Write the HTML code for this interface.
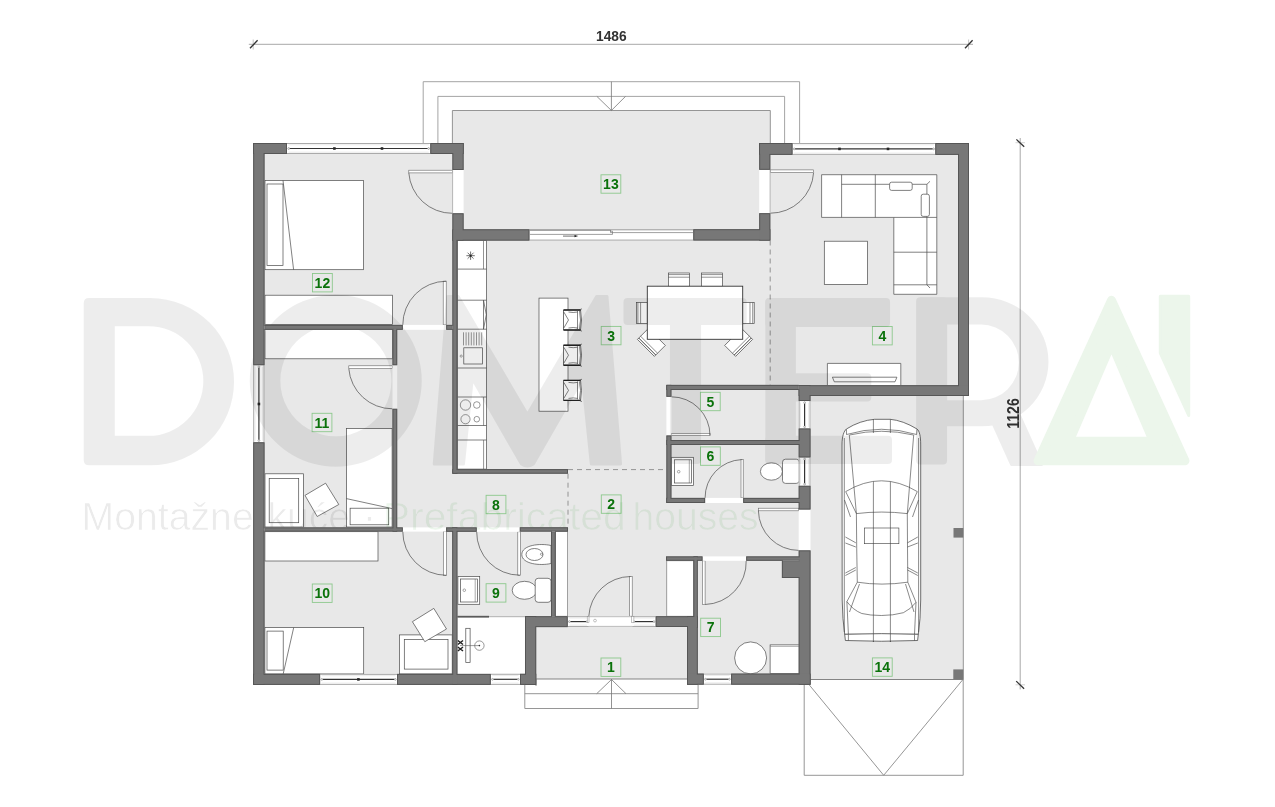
<!DOCTYPE html><html><head><meta charset="utf-8"><style>html,body{margin:0;padding:0;background:#fff;overflow:hidden}svg{display:block}.lb{opacity:0.995;font-family:"Liberation Sans",sans-serif;font-weight:bold;font-size:14px;fill:#0a720a}.dim{opacity:0.995;font-family:"Liberation Sans",sans-serif;font-weight:bold;font-size:15px;fill:#333}.wm{font-family:"Liberation Sans",sans-serif}</style></head><body>
<svg width="1275" height="807" viewBox="0 0 1275 807">
<defs><filter id="wo" x="0" y="0" width="1275" height="807" filterUnits="userSpaceOnUse"><feMorphology in="SourceAlpha" operator="erode" radius="1" result="er"/><feComposite in="SourceAlpha" in2="er" operator="out" result="edge"/><feFlood flood-color="#575757"/><feComposite in2="edge" operator="in" result="ec"/><feMerge><feMergeNode in="SourceGraphic"/><feMergeNode in="ec"/></feMerge></filter><filter id="thin" x="0" y="0" width="1275" height="807" filterUnits="userSpaceOnUse"><feMorphology operator="erode" radius="0.6"/></filter></defs>
<rect width="1275" height="807" fill="#fff"/>
<line x1="248.8" y1="44.3" x2="973.0" y2="44.3" stroke="#a8a8a8" stroke-width="1" />
<line x1="253.2" y1="39.5" x2="253.2" y2="49.5" stroke="#b8b8b8" stroke-width="0.8" />
<line x1="250.0" y1="48.2" x2="257.6" y2="40.3" stroke="#333" stroke-width="1.3" />
<line x1="968.6" y1="39.5" x2="968.6" y2="49.5" stroke="#b8b8b8" stroke-width="0.8" />
<line x1="965.0" y1="48.2" x2="972.6" y2="40.3" stroke="#333" stroke-width="1.3" />
<text x="596" y="41.2" textLength="30.6" lengthAdjust="spacingAndGlyphs" class="dim">1486</text>
<line x1="1020.2" y1="138.0" x2="1020.2" y2="689.4" stroke="#a8a8a8" stroke-width="1" />
<line x1="1015.5" y1="142.7" x2="1025.0" y2="142.7" stroke="#c8c8c8" stroke-width="0.8" />
<line x1="1016.4" y1="139.4" x2="1024.2" y2="146.7" stroke="#333" stroke-width="1.3" />
<line x1="1015.5" y1="684.8" x2="1025.0" y2="684.8" stroke="#c8c8c8" stroke-width="0.8" />
<line x1="1016.2" y1="681.1" x2="1024.1" y2="688.7" stroke="#333" stroke-width="1.3" />
<text transform="translate(1018.9,428.8) rotate(-90)" textLength="30.6" lengthAdjust="spacingAndGlyphs" class="dim" style="font-size:16.5px">1126</text>
<path d="M423.2,143 V81.7 H799.6 V143" fill="none" stroke="#9a9a9a" stroke-width="0.9"/>
<path d="M437.9,143 V96.4 H784.6 V143" fill="none" stroke="#9a9a9a" stroke-width="0.9"/>
<rect x="452.4" y="110.5" width="317.9" height="32.5" fill="#e8e8e8" stroke="none" stroke-width="0.8" />
<path d="M452.4,143 V110.5 H770.3 V143" fill="none" stroke="#8a8a8a" stroke-width="0.9"/>
<line x1="611.4" y1="81.7" x2="611.4" y2="110.5" stroke="#777" stroke-width="0.8" />
<path d="M596.9,96.4 L611.4,110.5 L625.5,96.4" fill="none" stroke="#777" stroke-width="0.8"/>
<rect x="253.0" y="143.0" width="716.0" height="542.0" fill="#e8e8e8" stroke="none" stroke-width="0.8" />
<rect x="963.3" y="396.0" width="6.7" height="290.0" fill="#fff" stroke="none" stroke-width="0.8" />
<rect x="810.0" y="679.5" width="160.0" height="6.5" fill="#fff" stroke="none" stroke-width="0.8" />
<rect x="536.0" y="679.0" width="151.0" height="7.0" fill="#fff" stroke="none" stroke-width="0.8" />
<line x1="963.3" y1="396.0" x2="963.3" y2="679.5" stroke="#8a8a8a" stroke-width="0.9" />
<line x1="810.0" y1="679.5" x2="963.3" y2="679.5" stroke="#777" stroke-width="0.9" />
<line x1="536.0" y1="679.0" x2="687.0" y2="679.0" stroke="#777" stroke-width="0.9" />
<path d="M524.8,684.9 V708.5 H698.1 V684.7" fill="none" stroke="#8a8a8a" stroke-width="0.9"/>
<line x1="536.0" y1="679.0" x2="536.0" y2="686.0" stroke="#8a8a8a" stroke-width="0.9" />
<line x1="524.8" y1="693.7" x2="698.1" y2="693.7" stroke="#8a8a8a" stroke-width="0.9" />
<line x1="611.5" y1="679.0" x2="611.5" y2="708.5" stroke="#777" stroke-width="0.8" />
<path d="M596.7,693.7 L611.5,679.5 L626,693.7" fill="none" stroke="#777" stroke-width="0.8"/>
<path d="M804.2,684.7 V775.3 H963.2 V679.5" fill="none" stroke="#8a8a8a" stroke-width="0.9"/>
<path d="M809.1,684.7 L883.7,775.3 L962.7,679.8" fill="none" stroke="#8a8a8a" stroke-width="0.9"/>
<rect x="457.4" y="617.4" width="67.5" height="56.4" fill="#fff" stroke="none" stroke-width="0.8" />
<rect x="555.7" y="531.6" width="12.0" height="84.6" fill="#fff" stroke="#666" stroke-width="0.6" />
<rect x="666.8" y="560.8" width="26.6" height="55.4" fill="#fff" stroke="#666" stroke-width="0.6" />
<rect x="408.8" y="170.2" width="43.6" height="2.7" fill="#fff" stroke="#666" stroke-width="0.6" />
<path d="M408.8,172.9 A43.6,43.6 0 0 0 452.4,213.3" fill="none" stroke="#4a4a4a" stroke-width="0.7"/>
<rect x="770.3" y="169.9" width="43.3" height="2.7" fill="#fff" stroke="#666" stroke-width="0.6" />
<path d="M813.6,172.6 A43.3,43.3 0 0 1 770.3,213.2" fill="none" stroke="#4a4a4a" stroke-width="0.7"/>
<rect x="443.2" y="281.2" width="3.0" height="43.7" fill="#fff" stroke="#666" stroke-width="0.6" />
<path d="M446.2,281.2 A43.6,43.6 0 0 0 402.8,324.9" fill="none" stroke="#4a4a4a" stroke-width="0.7"/>
<rect x="348.8" y="365.8" width="43.7" height="2.8" fill="#fff" stroke="#666" stroke-width="0.6" />
<path d="M348.8,368.6 A43.7,43.7 0 0 0 392.5,408.8" fill="none" stroke="#4a4a4a" stroke-width="0.7"/>
<rect x="443.3" y="531.6" width="3.1" height="43.7" fill="#fff" stroke="#666" stroke-width="0.6" />
<path d="M402.8,531.6 A43.6,43.6 0 0 0 446.4,575.3" fill="none" stroke="#4a4a4a" stroke-width="0.7"/>
<rect x="517.8" y="531.8" width="2.5" height="43.4" fill="#fff" stroke="#666" stroke-width="0.6" />
<path d="M476.7,531.8 A43.0,43.0 0 0 0 519.8,575.2" fill="none" stroke="#4a4a4a" stroke-width="0.7"/>
<rect x="671.4" y="433.3" width="38.6" height="2.2" fill="#fff" stroke="#666" stroke-width="0.6" />
<path d="M671.4,396.8 A38.6,38.6 0 0 1 710.0,435.5" fill="none" stroke="#4a4a4a" stroke-width="0.7"/>
<rect x="741.0" y="459.6" width="2.2" height="38.3" fill="#fff" stroke="#666" stroke-width="0.6" />
<path d="M705.1,497.9 A38.0,38.0 0 0 1 741.5,459.6" fill="none" stroke="#4a4a4a" stroke-width="0.7"/>
<rect x="758.4" y="508.2" width="40.3" height="2.6" fill="#fff" stroke="#666" stroke-width="0.6" />
<path d="M758.4,510.8 A40.5,40.5 0 0 0 798.7,550.4" fill="none" stroke="#4a4a4a" stroke-width="0.7"/>
<rect x="702.5" y="560.8" width="2.6" height="43.7" fill="#fff" stroke="#666" stroke-width="0.6" />
<path d="M746.2,560.8 A42.5,42.5 0 0 1 705.1,604.5" fill="none" stroke="#4a4a4a" stroke-width="0.7"/>
<rect x="629.7" y="576.5" width="2.5" height="39.7" fill="#fff" stroke="#666" stroke-width="0.6" />
<path d="M588.8,616.2 A42.0,42.0 0 0 1 630.5,576.5" fill="none" stroke="#4a4a4a" stroke-width="0.7"/>
<path d="M770.2,240.5 V384.9" fill="none" stroke="#8a8a8a" stroke-width="0.9" stroke-dasharray="5,4"/>
<path d="M568,473.7 V527.3 M568,469.6 H666.4" fill="none" stroke="#8a8a8a" stroke-width="0.9" stroke-dasharray="5,4"/>
<rect x="265.0" y="180.4" width="98.5" height="89.3" rx="0" fill="#fff" stroke="#4a4a4a" stroke-width="0.7"/>
<rect x="267.0" y="184.0" width="16.0" height="81.5" rx="0" fill="none" stroke="#4a4a4a" stroke-width="0.7"/>
<path d="M283,180.4 L293.6,269.7" fill="none" stroke="#4a4a4a" stroke-width="0.7"/>
<rect x="265.0" y="295.2" width="127.5" height="29.2" rx="0" fill="#fff" stroke="#4a4a4a" stroke-width="0.7"/>
<rect x="265.0" y="329.4" width="127.5" height="29.4" rx="0" fill="#fff" stroke="#4a4a4a" stroke-width="0.7"/>
<rect x="346.4" y="428.6" width="45.7" height="98.4" rx="0" fill="#fff" stroke="#4a4a4a" stroke-width="0.7"/>
<rect x="350.1" y="508.2" width="38.6" height="16.6" rx="0" fill="none" stroke="#4a4a4a" stroke-width="0.7"/>
<path d="M346.4,498.6 L392.1,508.6" fill="none" stroke="#4a4a4a" stroke-width="0.7"/>
<rect x="265.0" y="473.8" width="38.4" height="53.2" rx="0" fill="#fff" stroke="#4a4a4a" stroke-width="0.7"/>
<rect x="269.2" y="478.5" width="29.5" height="44.2" rx="0" fill="none" stroke="#4a4a4a" stroke-width="0.7"/>
<path d="M305,495.4 L325.6,483.2 L338.8,504.5 L317.2,516.5 Z" fill="#fff" stroke="#4a4a4a" stroke-width="0.7"/>
<rect x="264.9" y="531.7" width="113.1" height="29.3" rx="0" fill="#fff" stroke="#4a4a4a" stroke-width="0.7"/>
<rect x="264.9" y="627.6" width="98.8" height="46.3" rx="0" fill="#fff" stroke="#4a4a4a" stroke-width="0.7"/>
<rect x="267.0" y="631.1" width="16.2" height="39.0" rx="0" fill="none" stroke="#4a4a4a" stroke-width="0.7"/>
<path d="M293.7,627.6 L283.2,673.9" fill="none" stroke="#4a4a4a" stroke-width="0.7"/>
<rect x="399.5" y="634.9" width="52.7" height="39.0" rx="0" fill="#fff" stroke="#4a4a4a" stroke-width="0.7"/>
<rect x="404.3" y="639.6" width="43.7" height="29.5" rx="0" fill="none" stroke="#4a4a4a" stroke-width="0.7"/>
<path d="M412.4,621.7 L433.8,608.4 L446.5,629 L424.8,641.7 Z" fill="#fff" stroke="#4a4a4a" stroke-width="0.7"/>
<rect x="457.4" y="240.6" width="29.1" height="228.5" rx="0" fill="#fff" stroke="#4a4a4a" stroke-width="0.7"/>
<line x1="457.4" y1="269.1" x2="486.5" y2="269.1" stroke="#4a4a4a" stroke-width="0.7" />
<line x1="457.4" y1="300.2" x2="486.5" y2="300.2" stroke="#4a4a4a" stroke-width="0.7" />
<line x1="457.4" y1="329.2" x2="486.5" y2="329.2" stroke="#4a4a4a" stroke-width="0.7" />
<line x1="457.4" y1="368.0" x2="486.5" y2="368.0" stroke="#4a4a4a" stroke-width="0.7" />
<line x1="457.4" y1="397.0" x2="486.5" y2="397.0" stroke="#4a4a4a" stroke-width="0.7" />
<line x1="457.4" y1="425.5" x2="486.5" y2="425.5" stroke="#4a4a4a" stroke-width="0.7" />
<line x1="457.4" y1="440.0" x2="486.5" y2="440.0" stroke="#4a4a4a" stroke-width="0.7" />
<line x1="483.5" y1="240.6" x2="483.5" y2="269.1" stroke="#4a4a4a" stroke-width="0.6" />
<line x1="466.4" y1="255.7" x2="474.8" y2="255.7" stroke="#333" stroke-width="0.7" />
<line x1="467.6" y1="252.7" x2="473.6" y2="258.7" stroke="#333" stroke-width="0.7" />
<line x1="470.6" y1="251.5" x2="470.6" y2="259.9" stroke="#333" stroke-width="0.7" />
<line x1="473.6" y1="252.7" x2="467.6" y2="258.7" stroke="#333" stroke-width="0.7" />
<circle cx="470.6" cy="255.7" r="1" fill="#222"/>
<path d="M483.5,300.2 L486.3,314.7 L483.5,329.2 M483.5,300.2 V329.2" fill="none" stroke="#4a4a4a" stroke-width="0.7"/>
<line x1="463.5" y1="332.3" x2="463.5" y2="345.4" stroke="#555" stroke-width="0.6" />
<line x1="466.1" y1="332.3" x2="466.1" y2="345.4" stroke="#555" stroke-width="0.6" />
<line x1="468.7" y1="332.3" x2="468.7" y2="345.4" stroke="#555" stroke-width="0.6" />
<line x1="471.3" y1="332.3" x2="471.3" y2="345.4" stroke="#555" stroke-width="0.6" />
<line x1="473.9" y1="332.3" x2="473.9" y2="345.4" stroke="#555" stroke-width="0.6" />
<line x1="476.5" y1="332.3" x2="476.5" y2="345.4" stroke="#555" stroke-width="0.6" />
<line x1="479.1" y1="332.3" x2="479.1" y2="345.4" stroke="#555" stroke-width="0.6" />
<line x1="481.7" y1="332.3" x2="481.7" y2="345.4" stroke="#555" stroke-width="0.6" />
<rect x="463.8" y="347.8" width="18.8" height="16.2" rx="0" fill="none" stroke="#4a4a4a" stroke-width="0.7"/>
<circle cx="461.2" cy="356.1" r="1.1" fill="#fff" stroke="#555" stroke-width="0.5"/>
<circle cx="465.5" cy="405" r="5.2" fill="none" stroke="#555" stroke-width="0.6"/>
<circle cx="476.8" cy="405" r="3.3" fill="none" stroke="#555" stroke-width="0.6"/>
<circle cx="465.5" cy="419.2" r="4.6" fill="none" stroke="#555" stroke-width="0.6"/>
<circle cx="476.8" cy="419.2" r="2.8" fill="none" stroke="#555" stroke-width="0.6"/>
<line x1="483.6" y1="440.0" x2="483.6" y2="469.1" stroke="#4a4a4a" stroke-width="0.6" />
<line x1="483.6" y1="397.0" x2="483.6" y2="425.5" stroke="#4a4a4a" stroke-width="0.6" />
<rect x="539.0" y="298.1" width="29.0" height="113.1" rx="0" fill="#fff" stroke="#4a4a4a" stroke-width="0.7"/>
<path d="M563.5,310 H580.5 Q582.5,320 580.5,330 H563.5 Z" fill="#fff" stroke="#333" stroke-width="0.7"/>
<path d="M563.5,310 H580.5 M563.5,330 H580.5" stroke="#222" stroke-width="1.4" fill="none"/>
<path d="M563.8,312 L568.5,320 L563.8,328 M568.5,312 Q573.5,313 577.5,312 M568.5,328 Q573.5,327 577.5,328 M577.5,311 V329 M579.5,311 Q581.5,320 579.5,329 M579.5,309.8 L582.0,308.8 M579.5,330.2 L582.0,331.2" fill="none" stroke="#333" stroke-width="0.6"/>
<path d="M563.5,345.2 H580.5 Q582.5,355.2 580.5,365.2 H563.5 Z" fill="#fff" stroke="#333" stroke-width="0.7"/>
<path d="M563.5,345.2 H580.5 M563.5,365.2 H580.5" stroke="#222" stroke-width="1.4" fill="none"/>
<path d="M563.8,347.2 L568.5,355.2 L563.8,363.2 M568.5,347.2 Q573.5,348.2 577.5,347.2 M568.5,363.2 Q573.5,362.2 577.5,363.2 M577.5,346.2 V364.2 M579.5,346.2 Q581.5,355.2 579.5,364.2 M579.5,345.0 L582.0,344.0 M579.5,365.4 L582.0,366.4" fill="none" stroke="#333" stroke-width="0.6"/>
<path d="M563.5,380.4 H580.5 Q582.5,390.4 580.5,400.4 H563.5 Z" fill="#fff" stroke="#333" stroke-width="0.7"/>
<path d="M563.5,380.4 H580.5 M563.5,400.4 H580.5" stroke="#222" stroke-width="1.4" fill="none"/>
<path d="M563.8,382.4 L568.5,390.4 L563.8,398.4 M568.5,382.4 Q573.5,383.4 577.5,382.4 M568.5,398.4 Q573.5,397.4 577.5,398.4 M577.5,381.4 V399.4 M579.5,381.4 Q581.5,390.4 579.5,399.4 M579.5,380.2 L582.0,379.2 M579.5,400.59999999999997 L582.0,401.59999999999997" fill="none" stroke="#333" stroke-width="0.6"/>
<rect x="668.4" y="273.0" width="21.1" height="13.4" rx="0" fill="#fff" stroke="#4a4a4a" stroke-width="0.7"/>
<line x1="668.4" y1="274.6" x2="689.5" y2="274.6" stroke="#4a4a4a" stroke-width="0.6" />
<line x1="668.4" y1="277.2" x2="689.5" y2="277.2" stroke="#4a4a4a" stroke-width="0.6" />
<rect x="701.4" y="273.0" width="21.1" height="13.4" rx="0" fill="#fff" stroke="#4a4a4a" stroke-width="0.7"/>
<line x1="701.4" y1="274.6" x2="722.5" y2="274.6" stroke="#4a4a4a" stroke-width="0.6" />
<line x1="701.4" y1="277.2" x2="722.5" y2="277.2" stroke="#4a4a4a" stroke-width="0.6" />
<rect x="636.4" y="302.5" width="10.9" height="20.9" rx="0" fill="#fff" stroke="#4a4a4a" stroke-width="0.7"/>
<line x1="637.9" y1="302.5" x2="637.9" y2="323.4" stroke="#4a4a4a" stroke-width="0.6" />
<line x1="640.6" y1="302.5" x2="640.6" y2="323.4" stroke="#4a4a4a" stroke-width="0.6" />
<rect x="742.7" y="302.5" width="11.5" height="20.9" rx="0" fill="#fff" stroke="#4a4a4a" stroke-width="0.7"/>
<line x1="752.7" y1="302.5" x2="752.7" y2="323.4" stroke="#4a4a4a" stroke-width="0.6" />
<line x1="750.0" y1="302.5" x2="750.0" y2="323.4" stroke="#4a4a4a" stroke-width="0.6" />
<g transform="translate(651.2,342.6) rotate(45)">
<rect x="-12" y="-8" width="24" height="15.5" fill="#fff" stroke="#4a4a4a" stroke-width="0.7"/>
<line x1="-12" y1="5.6" x2="12" y2="5.6" stroke="#333" stroke-width="0.9"/><line x1="-12" y1="3" x2="12" y2="3" stroke="#4a4a4a" stroke-width="0.6"/>
</g>
<g transform="translate(738.8,342.6) rotate(-45)">
<rect x="-12" y="-8" width="24" height="15.5" fill="#fff" stroke="#4a4a4a" stroke-width="0.7"/>
<line x1="-12" y1="5.6" x2="12" y2="5.6" stroke="#333" stroke-width="0.9"/><line x1="-12" y1="3" x2="12" y2="3" stroke="#4a4a4a" stroke-width="0.6"/>
</g>
<rect x="647.3" y="286.2" width="95.4" height="53.1" fill="#fff" stroke="#333" stroke-width="0.9"/>
<path d="M821.6,174.7 H936.8 V294.3 H893.8 V217.4 H821.6 Z" fill="#fff" stroke="#4a4a4a" stroke-width="0.7"/>
<path d="M841.6,174.7 V217.4 M875.3,174.7 V217.4 M841.6,184.3 H926.9 V284.8 M893.8,252.2 H936.8 M893.8,284.8 H936.8 M893.8,217.4 H936.8 M926.9,184.3 L930,181.3 M926.9,284.8 L930,288" fill="none" stroke="#4a4a4a" stroke-width="0.7"/>
<rect x="889.6" y="182.2" width="22.6" height="8.2" rx="2" fill="#fff" stroke="#4a4a4a" stroke-width="0.7"/>
<rect x="921.2" y="194.2" width="8.2" height="22.2" rx="2" fill="#fff" stroke="#4a4a4a" stroke-width="0.7"/>
<rect x="824.3" y="241.2" width="43.2" height="43.2" rx="0" fill="#fff" stroke="#4a4a4a" stroke-width="0.7"/>
<path d="M827.4,385 V363.4 H900.8 V385" fill="#fff" stroke="#4a4a4a" stroke-width="0.7"/>
<path d="M832.4,377.2 H896.9 L895,381.8 H834.3 Z" fill="#fff" stroke="#4a4a4a" stroke-width="0.7"/>
<rect x="671.4" y="457.3" width="22.2" height="28.1" rx="0" fill="#fff" stroke="#4a4a4a" stroke-width="0.7"/>
<rect x="674.5" y="459.8" width="17.0" height="23.2" rx="0" fill="none" stroke="#4a4a4a" stroke-width="0.7"/>
<line x1="689.3" y1="459.8" x2="689.3" y2="483.0" stroke="#555" stroke-width="0.5" />
<circle cx="678.7" cy="471.7" r="1.3" fill="none" stroke="#555" stroke-width="0.5"/>
<ellipse cx="771.4" cy="471.5" rx="11" ry="8.7" fill="#fff" stroke="#4a4a4a" stroke-width="0.7"/>
<rect x="782.5" y="459.2" width="16.8" height="24.2" rx="3" fill="#fff" stroke="#4a4a4a" stroke-width="0.7"/>
<rect x="457.9" y="576.5" width="21.8" height="27.8" rx="0" fill="#fff" stroke="#4a4a4a" stroke-width="0.7"/>
<rect x="460.4" y="579.0" width="17.0" height="23.0" rx="0" fill="none" stroke="#4a4a4a" stroke-width="0.7"/>
<line x1="475.2" y1="579.0" x2="475.2" y2="602.0" stroke="#555" stroke-width="0.5" />
<circle cx="464.3" cy="590.2" r="1.3" fill="none" stroke="#555" stroke-width="0.5"/>
<path d="M551,545.5 C540,543 521.8,545 521.8,554.5 C521.8,564 540,566 551,563.5 Z" fill="#fff" stroke="#4a4a4a" stroke-width="0.7"/>
<ellipse cx="534.5" cy="554.5" rx="8.5" ry="6" fill="none" stroke="#4a4a4a" stroke-width="0.7"/>
<circle cx="541.5" cy="554.2" r="1.1" fill="none" stroke="#555" stroke-width="0.5"/>
<ellipse cx="524.5" cy="590.3" rx="12.3" ry="9" fill="#fff" stroke="#4a4a4a" stroke-width="0.7"/>
<rect x="535.2" y="578.3" width="15.8" height="24" rx="3" fill="#fff" stroke="#4a4a4a" stroke-width="0.7"/>
<rect x="465.8" y="628.3" width="4.3" height="34.3" fill="#fff" stroke="#4a4a4a" stroke-width="0.7"/>
<line x1="460.0" y1="645.6" x2="479.4" y2="645.6" stroke="#555" stroke-width="0.6" />
<circle cx="479.4" cy="645.6" r="4.7" fill="none" stroke="#555" stroke-width="0.6"/><circle cx="479.4" cy="645.6" r="0.8" fill="#333"/>
<path d="M457.8,640.5 L463,644.5 M457.8,644.5 L463,640.5 M457.8,647 L463,651 M457.8,651 L463,647" stroke="#222" stroke-width="1.5"/>
<circle cx="750.6" cy="657.9" r="16" fill="#fff" stroke="#4a4a4a" stroke-width="0.7"/>
<rect x="770.1" y="644.9" width="29.2" height="28.7" rx="0" fill="#fff" stroke="#4a4a4a" stroke-width="0.7"/>
<line x1="770.1" y1="646.5" x2="799.3" y2="646.5" stroke="#777" stroke-width="0.5" />
<rect x="953.5" y="528.0" width="9.8" height="9.6" fill="#777777" stroke="none" stroke-width="0.8" />
<rect x="953.3" y="669.4" width="10.0" height="10.1" fill="#777777" stroke="none" stroke-width="0.8" />
<path d="M842,445 C842,436 844,431 846.4,429 Q860,420.5 874.6,419.3 H890.2 Q903,420.5 917,429 C919.5,431 920.7,436 920.7,445 L920.7,600 Q920.5,620 918.3,634.3 H844.7 Q842.5,620 842.2,600 Z" fill="#fff" stroke="#333" stroke-width="0.7"/>
<path d="M846.5,434.5 Q881.5,424 916.6,434.5 M846.4,429.3 L846.5,434.5 M917,429.3 L916.6,434.5 M849.5,435 Q881.5,427.5 913.5,435" stroke="#3a3a3a" stroke-width="0.6" fill="none"/>
<path d="M873.4,419.3 V433 M890.4,419.3 V433 M873.4,481.5 V642 M890.4,481.5 V642" stroke="#3a3a3a" stroke-width="0.6" fill="none"/>
<path d="M849.3,435 L856.4,513.6 M913.7,435 L907.3,513.6 M844.3,438 V632 M918.6,438 V632" stroke="#3a3a3a" stroke-width="0.6" fill="none"/>
<path d="M845.7,491.6 Q881.5,470 917.3,491.6 M856.4,513.6 Q881.5,510.5 907.3,513.6 M845.7,491.6 L856.4,513.6 M917.3,491.6 L907.3,513.6 M844.5,500 L850.5,517 M918.5,500 L912.5,517" stroke="#3a3a3a" stroke-width="0.6" fill="none"/>
<path d="M856.4,513.6 Q856.6,550 857.3,582.2 M907.3,513.6 Q907.5,550 907.8,582.2 M857.3,582.2 Q881.5,586 907.8,582.2" stroke="#3a3a3a" stroke-width="0.6" fill="none"/>
<path d="M857.3,582.2 L846.9,601.6 Q853,610 861.8,613.5 Q870,615.5 881.5,615.5 Q893,615.5 903.4,612.7 Q911,609 916,602.3 L907.8,582.2 M859.5,584 L849.5,612 M905.5,584 L914,612 M846.9,601.6 L848.4,634.3 M916,602.3 L914.5,634.3" stroke="#3a3a3a" stroke-width="0.6" fill="none"/>
<path d="M845.4,537 L855.8,542.8 M845.4,543 L855.8,547 M845.4,573 L855.8,567.5 M845.4,575.5 L855.8,570 M917.8,537 L907.5,542.8 M917.8,543 L907.5,547 M917.8,573 L907.5,567.5 M917.8,575.5 L907.5,570" stroke="#3a3a3a" stroke-width="0.6" fill="none"/>
<rect x="864.6" y="528" width="34.3" height="15.7" stroke="#3a3a3a" stroke-width="0.6" fill="none"/>
<path d="M844.7,634.3 Q881.5,633 918.3,634.3 L917.6,640.5 Q881.5,642 845.4,640.5 Z" fill="#fff" stroke="#333" stroke-width="0.7"/>
<path d="M848.4,634.5 V640.5 M914.5,634.5 V640.5 M873.4,634 V642 M890.4,634 V642" stroke="#3a3a3a" stroke-width="0.6" fill="none"/>
<rect x="601.0" y="658.0" width="19.8" height="18.4" fill="none" stroke="#8cc88c" stroke-width="0.9" />
<text x="610.9" y="672.2" text-anchor="middle" class="lb">1</text>
<rect x="601.3" y="494.9" width="19.8" height="18.4" fill="none" stroke="#8cc88c" stroke-width="0.9" />
<text x="611.2" y="509.1" text-anchor="middle" class="lb">2</text>
<rect x="601.2" y="326.4" width="19.8" height="18.4" fill="none" stroke="#8cc88c" stroke-width="0.9" />
<text x="611.1" y="340.6" text-anchor="middle" class="lb">3</text>
<rect x="872.4" y="326.5" width="19.8" height="18.4" fill="none" stroke="#8cc88c" stroke-width="0.9" />
<text x="882.3" y="340.7" text-anchor="middle" class="lb">4</text>
<rect x="700.4" y="392.3" width="19.8" height="18.4" fill="none" stroke="#8cc88c" stroke-width="0.9" />
<text x="710.3" y="406.5" text-anchor="middle" class="lb">5</text>
<rect x="700.5" y="446.9" width="19.8" height="18.4" fill="none" stroke="#8cc88c" stroke-width="0.9" />
<text x="710.4" y="461.1" text-anchor="middle" class="lb">6</text>
<rect x="700.7" y="618.2" width="19.8" height="18.4" fill="none" stroke="#8cc88c" stroke-width="0.9" />
<text x="710.6" y="632.4" text-anchor="middle" class="lb">7</text>
<rect x="486.1" y="495.3" width="19.8" height="18.4" fill="none" stroke="#8cc88c" stroke-width="0.9" />
<text x="496.0" y="509.5" text-anchor="middle" class="lb">8</text>
<rect x="486.1" y="583.7" width="19.8" height="18.4" fill="none" stroke="#8cc88c" stroke-width="0.9" />
<text x="496.0" y="597.9" text-anchor="middle" class="lb">9</text>
<rect x="312.3" y="584.0" width="19.8" height="18.4" fill="none" stroke="#8cc88c" stroke-width="0.9" />
<text x="322.2" y="598.2" text-anchor="middle" class="lb">10</text>
<rect x="312.1" y="413.3" width="19.8" height="18.4" fill="none" stroke="#8cc88c" stroke-width="0.9" />
<text x="322.0" y="427.5" text-anchor="middle" class="lb">11</text>
<rect x="312.5" y="273.5" width="19.8" height="18.4" fill="none" stroke="#8cc88c" stroke-width="0.9" />
<text x="322.4" y="287.7" text-anchor="middle" class="lb">12</text>
<rect x="601.0" y="174.8" width="19.8" height="18.4" fill="none" stroke="#8cc88c" stroke-width="0.9" />
<text x="610.9" y="189.0" text-anchor="middle" class="lb">13</text>
<rect x="872.4" y="657.9" width="19.8" height="18.4" fill="none" stroke="#8cc88c" stroke-width="0.9" />
<text x="882.3" y="672.1" text-anchor="middle" class="lb">14</text>
<rect x="452.4" y="170.0" width="11.2" height="43.3" fill="#fff" stroke="none" stroke-width="0.8" />
<rect x="759.2" y="169.8" width="11.1" height="43.4" fill="#fff" stroke="none" stroke-width="0.8" />
<rect x="402.8" y="324.9" width="43.4" height="4.9" fill="#fff" stroke="none" stroke-width="0.8" />
<rect x="392.5" y="365.2" width="4.7" height="43.6" fill="#fff" stroke="none" stroke-width="0.8" />
<rect x="402.8" y="527.4" width="43.3" height="4.2" fill="#fff" stroke="none" stroke-width="0.8" />
<rect x="476.7" y="527.4" width="43.1" height="4.4" fill="#fff" stroke="none" stroke-width="0.8" />
<rect x="666.4" y="396.8" width="5.0" height="38.7" fill="#fff" stroke="none" stroke-width="0.8" />
<rect x="705.1" y="497.9" width="38.1" height="5.1" fill="#fff" stroke="none" stroke-width="0.8" />
<rect x="798.7" y="509.5" width="11.8" height="40.9" fill="#fff" stroke="none" stroke-width="0.8" />
<rect x="702.5" y="556.4" width="43.7" height="4.4" fill="#fff" stroke="none" stroke-width="0.8" />
<rect x="588.8" y="616.2" width="43.4" height="10.8" fill="#fff" stroke="none" stroke-width="0.8" />
<line x1="452.6" y1="170.0" x2="452.6" y2="213.3" stroke="#888" stroke-width="0.6" />
<line x1="770.1" y1="169.8" x2="770.1" y2="213.2" stroke="#888" stroke-width="0.6" />
<rect x="287.0" y="143.0" width="143.3" height="11.0" fill="#fff" stroke="none" stroke-width="0.8" />
<line x1="287.0" y1="143.5" x2="430.3" y2="143.5" stroke="#aaa" stroke-width="1" />
<line x1="287.0" y1="153.5" x2="430.3" y2="153.5" stroke="#aaa" stroke-width="1" />
<line x1="288.5" y1="144.8" x2="428.8" y2="144.8" stroke="#dcdcdc" stroke-width="0.6" />
<line x1="288.5" y1="152.2" x2="428.8" y2="152.2" stroke="#dcdcdc" stroke-width="0.6" />
<line x1="289.6" y1="148.5" x2="427.7" y2="148.5" stroke="#333" stroke-width="1.2" />
<circle cx="288.7" cy="148.5" r="0.9" fill="#fff" stroke="#666" stroke-width="0.5"/><circle cx="428.6" cy="148.5" r="0.9" fill="#fff" stroke="#666" stroke-width="0.5"/>
<rect x="333.1" y="147.2" width="2.6" height="2.6" fill="#262626" stroke="none" stroke-width="0.8" />
<rect x="380.7" y="147.2" width="2.6" height="2.6" fill="#262626" stroke="none" stroke-width="0.8" />
<rect x="792.5" y="143.0" width="142.8" height="11.9" fill="#fff" stroke="none" stroke-width="0.8" />
<line x1="792.5" y1="143.5" x2="935.3" y2="143.5" stroke="#aaa" stroke-width="1" />
<line x1="792.5" y1="154.4" x2="935.3" y2="154.4" stroke="#aaa" stroke-width="1" />
<line x1="794.0" y1="144.8" x2="933.8" y2="144.8" stroke="#dcdcdc" stroke-width="0.6" />
<line x1="794.0" y1="153.1" x2="933.8" y2="153.1" stroke="#dcdcdc" stroke-width="0.6" />
<line x1="795.1" y1="148.9" x2="932.7" y2="148.9" stroke="#333" stroke-width="1.2" />
<circle cx="794.2" cy="148.9" r="0.9" fill="#fff" stroke="#666" stroke-width="0.5"/><circle cx="933.6" cy="148.9" r="0.9" fill="#fff" stroke="#666" stroke-width="0.5"/>
<rect x="838.2" y="147.6" width="2.6" height="2.6" fill="#262626" stroke="none" stroke-width="0.8" />
<rect x="886.7" y="147.6" width="2.6" height="2.6" fill="#262626" stroke="none" stroke-width="0.8" />
<rect x="253.2" y="365.2" width="11.3" height="77.1" fill="#fff" stroke="none" stroke-width="0.8" />
<line x1="253.7" y1="365.2" x2="253.7" y2="442.3" stroke="#aaa" stroke-width="1" />
<line x1="264.0" y1="365.2" x2="264.0" y2="442.3" stroke="#aaa" stroke-width="1" />
<line x1="255.0" y1="366.7" x2="255.0" y2="440.8" stroke="#dcdcdc" stroke-width="0.6" />
<line x1="262.7" y1="366.7" x2="262.7" y2="440.8" stroke="#dcdcdc" stroke-width="0.6" />
<line x1="258.9" y1="367.8" x2="258.9" y2="439.7" stroke="#333" stroke-width="1.2" />
<circle cx="258.9" cy="366.9" r="0.9" fill="#fff" stroke="#666" stroke-width="0.5"/><circle cx="258.9" cy="440.6" r="0.9" fill="#fff" stroke="#666" stroke-width="0.5"/>
<rect x="257.6" y="402.7" width="2.6" height="2.6" fill="#262626" stroke="none" stroke-width="0.8" />
<rect x="320.1" y="673.9" width="76.9" height="11.0" fill="#fff" stroke="none" stroke-width="0.8" />
<line x1="320.1" y1="674.4" x2="397.0" y2="674.4" stroke="#aaa" stroke-width="1" />
<line x1="320.1" y1="684.4" x2="397.0" y2="684.4" stroke="#aaa" stroke-width="1" />
<line x1="321.6" y1="675.7" x2="395.5" y2="675.7" stroke="#dcdcdc" stroke-width="0.6" />
<line x1="321.6" y1="683.1" x2="395.5" y2="683.1" stroke="#dcdcdc" stroke-width="0.6" />
<line x1="322.7" y1="679.4" x2="394.4" y2="679.4" stroke="#333" stroke-width="1.2" />
<circle cx="321.8" cy="679.4" r="0.9" fill="#fff" stroke="#666" stroke-width="0.5"/><circle cx="395.3" cy="679.4" r="0.9" fill="#fff" stroke="#666" stroke-width="0.5"/>
<rect x="357.1" y="678.1" width="2.6" height="2.6" fill="#262626" stroke="none" stroke-width="0.8" />
<rect x="490.8" y="673.8" width="29.2" height="11.1" fill="#fff" stroke="none" stroke-width="0.8" />
<line x1="490.8" y1="674.3" x2="520.0" y2="674.3" stroke="#aaa" stroke-width="1" />
<line x1="490.8" y1="684.4" x2="520.0" y2="684.4" stroke="#aaa" stroke-width="1" />
<line x1="492.3" y1="675.6" x2="518.5" y2="675.6" stroke="#dcdcdc" stroke-width="0.6" />
<line x1="492.3" y1="683.1" x2="518.5" y2="683.1" stroke="#dcdcdc" stroke-width="0.6" />
<line x1="493.4" y1="679.3" x2="517.4" y2="679.3" stroke="#333" stroke-width="1.2" />
<circle cx="492.5" cy="679.3" r="0.9" fill="#fff" stroke="#666" stroke-width="0.5"/><circle cx="518.3" cy="679.3" r="0.9" fill="#fff" stroke="#666" stroke-width="0.5"/>
<rect x="703.8" y="673.6" width="27.3" height="11.1" fill="#fff" stroke="none" stroke-width="0.8" />
<line x1="703.8" y1="674.1" x2="731.1" y2="674.1" stroke="#aaa" stroke-width="1" />
<line x1="703.8" y1="684.2" x2="731.1" y2="684.2" stroke="#aaa" stroke-width="1" />
<line x1="705.3" y1="675.4" x2="729.6" y2="675.4" stroke="#dcdcdc" stroke-width="0.6" />
<line x1="705.3" y1="682.9" x2="729.6" y2="682.9" stroke="#dcdcdc" stroke-width="0.6" />
<line x1="706.4" y1="679.2" x2="728.5" y2="679.2" stroke="#333" stroke-width="1.2" />
<circle cx="705.5" cy="679.2" r="0.9" fill="#fff" stroke="#666" stroke-width="0.5"/><circle cx="729.4" cy="679.2" r="0.9" fill="#fff" stroke="#666" stroke-width="0.5"/>
<rect x="798.7" y="401.0" width="11.8" height="27.5" fill="#fff" stroke="none" stroke-width="0.8" />
<line x1="799.2" y1="401.0" x2="799.2" y2="428.5" stroke="#aaa" stroke-width="1" />
<line x1="810.0" y1="401.0" x2="810.0" y2="428.5" stroke="#aaa" stroke-width="1" />
<line x1="800.5" y1="402.5" x2="800.5" y2="427.0" stroke="#dcdcdc" stroke-width="0.6" />
<line x1="808.7" y1="402.5" x2="808.7" y2="427.0" stroke="#dcdcdc" stroke-width="0.6" />
<line x1="804.6" y1="403.6" x2="804.6" y2="425.9" stroke="#333" stroke-width="1.2" />
<circle cx="804.6" cy="402.7" r="0.9" fill="#fff" stroke="#666" stroke-width="0.5"/><circle cx="804.6" cy="426.8" r="0.9" fill="#fff" stroke="#666" stroke-width="0.5"/>
<rect x="798.7" y="457.4" width="11.8" height="28.4" fill="#fff" stroke="none" stroke-width="0.8" />
<line x1="799.2" y1="457.4" x2="799.2" y2="485.8" stroke="#aaa" stroke-width="1" />
<line x1="810.0" y1="457.4" x2="810.0" y2="485.8" stroke="#aaa" stroke-width="1" />
<line x1="800.5" y1="458.9" x2="800.5" y2="484.3" stroke="#dcdcdc" stroke-width="0.6" />
<line x1="808.7" y1="458.9" x2="808.7" y2="484.3" stroke="#dcdcdc" stroke-width="0.6" />
<line x1="804.6" y1="460.0" x2="804.6" y2="483.2" stroke="#333" stroke-width="1.2" />
<circle cx="804.6" cy="459.1" r="0.9" fill="#fff" stroke="#666" stroke-width="0.5"/><circle cx="804.6" cy="484.1" r="0.9" fill="#fff" stroke="#666" stroke-width="0.5"/>
<rect x="567.7" y="616.2" width="21.1" height="10.8" fill="#fff" stroke="none" stroke-width="0.8" />
<line x1="567.7" y1="616.7" x2="588.8" y2="616.7" stroke="#aaa" stroke-width="1" />
<line x1="567.7" y1="626.5" x2="588.8" y2="626.5" stroke="#aaa" stroke-width="1" />
<line x1="569.2" y1="618.0" x2="587.3" y2="618.0" stroke="#dcdcdc" stroke-width="0.6" />
<line x1="569.2" y1="625.2" x2="587.3" y2="625.2" stroke="#dcdcdc" stroke-width="0.6" />
<line x1="570.3" y1="621.6" x2="586.2" y2="621.6" stroke="#333" stroke-width="1.2" />
<circle cx="569.4" cy="621.6" r="0.9" fill="#fff" stroke="#666" stroke-width="0.5"/><circle cx="587.1" cy="621.6" r="0.9" fill="#fff" stroke="#666" stroke-width="0.5"/>
<rect x="632.2" y="616.2" width="23.5" height="10.8" fill="#fff" stroke="none" stroke-width="0.8" />
<line x1="632.2" y1="616.7" x2="655.7" y2="616.7" stroke="#aaa" stroke-width="1" />
<line x1="632.2" y1="626.5" x2="655.7" y2="626.5" stroke="#aaa" stroke-width="1" />
<line x1="633.7" y1="618.0" x2="654.2" y2="618.0" stroke="#dcdcdc" stroke-width="0.6" />
<line x1="633.7" y1="625.2" x2="654.2" y2="625.2" stroke="#dcdcdc" stroke-width="0.6" />
<line x1="634.8" y1="621.6" x2="653.1" y2="621.6" stroke="#333" stroke-width="1.2" />
<circle cx="633.9" cy="621.6" r="0.9" fill="#fff" stroke="#666" stroke-width="0.5"/><circle cx="654.0" cy="621.6" r="0.9" fill="#fff" stroke="#666" stroke-width="0.5"/>
<rect x="529.4" y="229.3" width="163.9" height="11.3" fill="#fff" stroke="none" stroke-width="0.8" />
<line x1="529.4" y1="229.8" x2="693.3" y2="229.8" stroke="#8a8a8a" stroke-width="0.9" />
<line x1="529.4" y1="240.1" x2="693.3" y2="240.1" stroke="#9a9a9a" stroke-width="0.9" />
<path d="M529.9,230.3 H610.5 V231.2 H612.5 V234.4 H529.9 M610.5,230.3 V232.6 H693" fill="none" stroke="#777" stroke-width="0.7"/>
<line x1="563.0" y1="236.1" x2="576.0" y2="236.1" stroke="#333" stroke-width="0.7" />
<path d="M574.5,235 L578.3,236.1 L574.5,237.2 Z" fill="#222"/>
<line x1="588.8" y1="616.7" x2="632.2" y2="616.7" stroke="#aaa" stroke-width="0.8" />
<line x1="588.8" y1="626.4" x2="632.2" y2="626.4" stroke="#aaa" stroke-width="0.8" />
<rect x="587.2" y="616.5" width="1.8" height="6" fill="#fff" stroke="#888" stroke-width="0.5"/><rect x="631.5" y="616.5" width="2.4" height="6" fill="#fff" stroke="#888" stroke-width="0.5"/>
<circle cx="595" cy="620.6" r="1.4" fill="none" stroke="#888" stroke-width="0.5"/>
<g opacity="0.066" fill="#000">
<path fill-rule="evenodd" d="M89,298.1 H150.5 A83.6,83.6 0 0 1 150.5,465.3 H89 Q83.7,465.3 83.7,460 V303.4 Q83.7,298.1 89,298.1 Z M114.8,326.2 V435.8 H148.5 A54.8,54.8 0 0 0 148.5,326.2 Z"/>
<path fill-rule="evenodd" d="M335.8,294.8 A86,86 0 1 1 335.7,294.8 Z M335.8,325.3 A55.5,55.5 0 1 0 335.9,325.3 Z"/>
<path d="M434.2,464 L447.8,296.5 L458.2,296.5 L527.4,414.5 L596.6,296.5 L607,296.5 L620.6,464 L591.3,464 L582.5,378.6 L533.4,464 Q527.4,468 521.4,464 L472.3,378.6 L463.5,464 Z" stroke="#000" stroke-width="3" stroke-linejoin="round"/>
<rect x="623.5" y="298" width="123.2" height="27" rx="4"/><rect x="669.9" y="298" width="31.2" height="166" rx="4"/>
<rect x="765.3" y="298" width="30.6" height="166" rx="4"/><rect x="765.3" y="298" width="124.8" height="29" rx="4"/><rect x="790" y="373.3" width="81.3" height="28.3" rx="4"/><rect x="765.3" y="435.7" width="126.7" height="28.3" rx="4"/>
<rect x="916.1" y="297.3" width="31" height="167.3" rx="4"/>
<path fill-rule="evenodd" d="M920,297.3 H982 A66.5,64.5 0 0 1 982,426.3 H920 Z M947.1,324.6 V400.2 H981 A37.8,37.8 0 0 0 981,324.6 Z"/>
<path d="M989,414.5 L1011.5,464.4 L1041.5,464.4 L1019.3,415 Z" stroke="#000" stroke-width="3" stroke-linejoin="round"/>
</g>
<g fill="#ecf6eb" stroke="#ecf6eb" stroke-width="9.0" stroke-linejoin="round">
<path fill-rule="evenodd" d="M1111.5,300.3 L1185.0,460.8 L1038.0,460.8 Z M1111.5,343.0 L1069.2,441.2 L1153.4,441.2 Z"/>
<path d="M1160.3,296.3 L1188.7,296.3 L1188.7,415.5 L1160.3,353.2 Z" stroke-width="3"/>
</g>
<mask id="tm" maskUnits="userSpaceOnUse" x="0" y="0" width="1275" height="807"><g class="wm" font-size="38.5"><text x="81.6" y="530" textLength="172.1" lengthAdjust="spacingAndGlyphs" fill="#fff" stroke="#000" stroke-width="0.6">Montažne</text><text x="267.6" y="530" textLength="82.2" lengthAdjust="spacingAndGlyphs" fill="#fff" stroke="#000" stroke-width="0.6">kuće</text><text x="363" y="530" fill="#fff" stroke="#000" stroke-width="0.6">·</text><text x="382.8" y="530" textLength="243" lengthAdjust="spacingAndGlyphs" fill="#fff" stroke="#000" stroke-width="0.6">Prefabricated</text><text x="632.4" y="530" textLength="126.1" lengthAdjust="spacingAndGlyphs" fill="#fff" stroke="#000" stroke-width="0.6">houses</text></g></mask>
<g class="wm" font-size="38.5" mask="url(#tm)"><text x="81.6" y="530" textLength="172.1" lengthAdjust="spacingAndGlyphs" fill="#000" opacity="0.08">Montažne</text><text x="267.6" y="530" textLength="82.2" lengthAdjust="spacingAndGlyphs" fill="#000" opacity="0.08">kuće</text><text x="363" y="530" fill="#000" opacity="0.08">·</text><text x="382.8" y="530" textLength="243" lengthAdjust="spacingAndGlyphs" fill="#008000" opacity="0.075">Prefabricated</text><text x="632.4" y="530" textLength="126.1" lengthAdjust="spacingAndGlyphs" fill="#008000" opacity="0.075">houses</text></g>
<g filter="url(#wo)">
<rect x="253.2" y="143.0" width="11.3" height="222.2" fill="#777777" stroke="none" stroke-width="0.8" />
<rect x="253.2" y="442.3" width="11.3" height="242.7" fill="#777777" stroke="none" stroke-width="0.8" />
<rect x="253.2" y="143.0" width="33.8" height="11.0" fill="#777777" stroke="none" stroke-width="0.8" />
<rect x="430.3" y="143.0" width="33.3" height="11.0" fill="#777777" stroke="none" stroke-width="0.8" />
<rect x="452.4" y="143.0" width="11.2" height="27.0" fill="#777777" stroke="none" stroke-width="0.8" />
<rect x="452.4" y="213.3" width="11.2" height="27.3" fill="#777777" stroke="none" stroke-width="0.8" />
<rect x="452.4" y="229.3" width="77.0" height="11.3" fill="#777777" stroke="none" stroke-width="0.8" />
<rect x="693.3" y="229.2" width="77.0" height="11.3" fill="#777777" stroke="none" stroke-width="0.8" />
<rect x="759.2" y="143.0" width="11.1" height="26.8" fill="#777777" stroke="none" stroke-width="0.8" />
<rect x="759.2" y="213.2" width="11.1" height="27.3" fill="#777777" stroke="none" stroke-width="0.8" />
<rect x="759.2" y="143.0" width="33.3" height="11.9" fill="#777777" stroke="none" stroke-width="0.8" />
<rect x="935.3" y="143.0" width="33.7" height="11.9" fill="#777777" stroke="none" stroke-width="0.8" />
<rect x="958.0" y="143.0" width="11.0" height="253.0" fill="#777777" stroke="none" stroke-width="0.8" />
<rect x="798.7" y="385.2" width="170.3" height="10.8" fill="#777777" stroke="none" stroke-width="0.8" />
<rect x="666.4" y="384.9" width="132.3" height="5.1" fill="#777777" stroke="none" stroke-width="0.8" />
<rect x="666.4" y="384.9" width="5.0" height="11.9" fill="#777777" stroke="none" stroke-width="0.8" />
<rect x="666.4" y="435.5" width="5.0" height="67.5" fill="#777777" stroke="none" stroke-width="0.8" />
<rect x="798.7" y="385.0" width="11.8" height="16.0" fill="#777777" stroke="none" stroke-width="0.8" />
<rect x="798.7" y="428.5" width="11.8" height="28.9" fill="#777777" stroke="none" stroke-width="0.8" />
<rect x="798.7" y="485.8" width="11.8" height="23.7" fill="#777777" stroke="none" stroke-width="0.8" />
<rect x="798.7" y="550.4" width="11.8" height="134.3" fill="#777777" stroke="none" stroke-width="0.8" />
<rect x="666.4" y="440.0" width="132.9" height="5.0" fill="#777777" stroke="none" stroke-width="0.8" />
<rect x="666.4" y="497.9" width="38.7" height="5.1" fill="#777777" stroke="none" stroke-width="0.8" />
<rect x="743.2" y="497.9" width="56.8" height="5.1" fill="#777777" stroke="none" stroke-width="0.8" />
<rect x="666.0" y="556.4" width="36.5" height="4.4" fill="#777777" stroke="none" stroke-width="0.8" />
<rect x="746.2" y="556.4" width="53.8" height="4.4" fill="#777777" stroke="none" stroke-width="0.8" />
<rect x="693.4" y="556.4" width="4.4" height="71.6" fill="#777777" stroke="none" stroke-width="0.8" />
<rect x="781.9" y="560.8" width="17.4" height="17.2" fill="#777777" stroke="none" stroke-width="0.8" />
<rect x="655.7" y="616.2" width="42.1" height="10.8" fill="#777777" stroke="none" stroke-width="0.8" />
<rect x="687.0" y="616.2" width="10.8" height="68.5" fill="#777777" stroke="none" stroke-width="0.8" />
<rect x="687.0" y="673.6" width="16.8" height="11.1" fill="#777777" stroke="none" stroke-width="0.8" />
<rect x="731.1" y="673.6" width="79.4" height="11.1" fill="#777777" stroke="none" stroke-width="0.8" />
<rect x="525.0" y="616.2" width="11.2" height="68.7" fill="#777777" stroke="none" stroke-width="0.8" />
<rect x="525.0" y="616.2" width="42.7" height="10.9" fill="#777777" stroke="none" stroke-width="0.8" />
<rect x="253.2" y="673.9" width="66.9" height="11.0" fill="#777777" stroke="none" stroke-width="0.8" />
<rect x="397.0" y="673.9" width="93.8" height="11.0" fill="#777777" stroke="none" stroke-width="0.8" />
<rect x="520.0" y="673.8" width="16.2" height="11.1" fill="#777777" stroke="none" stroke-width="0.8" />
<rect x="452.2" y="527.4" width="5.2" height="157.5" fill="#777777" stroke="none" stroke-width="0.8" />
<rect x="264.5" y="527.4" width="138.3" height="4.2" fill="#777777" stroke="none" stroke-width="0.8" />
<rect x="446.1" y="527.4" width="30.6" height="4.4" fill="#777777" stroke="none" stroke-width="0.8" />
<rect x="519.8" y="527.3" width="48.2" height="4.3" fill="#777777" stroke="none" stroke-width="0.8" />
<rect x="392.5" y="329.4" width="4.7" height="35.8" fill="#777777" stroke="none" stroke-width="0.8" />
<rect x="392.5" y="408.8" width="4.7" height="122.8" fill="#777777" stroke="none" stroke-width="0.8" />
<rect x="264.5" y="324.9" width="138.3" height="4.9" fill="#777777" stroke="none" stroke-width="0.8" />
<rect x="446.2" y="324.9" width="6.4" height="4.9" fill="#777777" stroke="none" stroke-width="0.8" />
<rect x="452.4" y="240.0" width="5.0" height="233.7" fill="#777777" stroke="none" stroke-width="0.8" />
<rect x="452.4" y="469.1" width="115.6" height="4.6" fill="#777777" stroke="none" stroke-width="0.8" />
<rect x="551.0" y="531.6" width="4.7" height="84.6" fill="#777777" stroke="none" stroke-width="0.8" />
<rect x="457.4" y="615.9" width="31.6" height="1.5" fill="#777777" stroke="none" stroke-width="0.8" />
</g>
<line x1="489.0" y1="616.6" x2="525.0" y2="616.6" stroke="#aaa" stroke-width="0.8" />
</svg></body></html>
